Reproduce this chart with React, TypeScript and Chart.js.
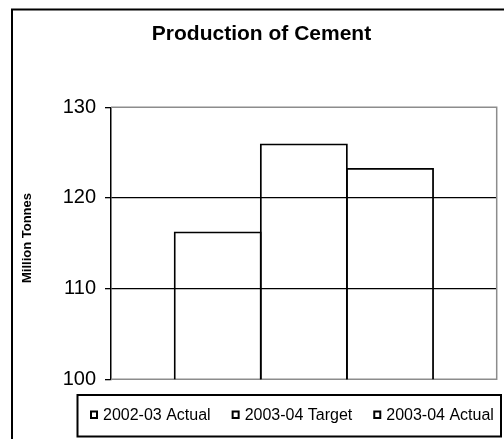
import { useEffect, useRef } from "react";
import { Chart, registerables } from "chart.js";

Chart.register(...registerables);

const chartTitle = "Production of Cement";
const yAxisTitle = "Million Tonnes";
const categories = ["Cement"];
const seriesLabels = ["2002-03 Actual", "2003-04 Target", "2003-04 Actual"];
const actual2002 = [116.3];
const target2003 = [126.0];
const actual2003 = [123.3];
const yMin = 100;
const yMax = 130;
const yStep = 10;

const FONT = "'Liberation Sans', Arial, Helvetica, sans-serif";

const decorPlugin = {
  id: "decor",
  beforeDatasetsDraw(chart: any) {
    const { ctx, chartArea: a } = chart;
    ctx.save();
    ctx.strokeStyle = "#8c8c8c";
    ctx.lineWidth = 1.5;
    ctx.beginPath();
    ctx.moveTo(a.left, a.top);
    ctx.lineTo(a.right, a.top);
    ctx.lineTo(a.right, a.bottom);
    ctx.lineTo(a.left, a.bottom);
    ctx.stroke();
    ctx.restore();
  },
  afterDraw(chart: any) {
    const { ctx } = chart;
    ctx.save();
    // outer frame
    ctx.strokeStyle = "#000";
    ctx.lineWidth = 2;
    ctx.strokeRect(12, 9.5, 700, 700);

    // title
    ctx.fillStyle = "#000";
    ctx.font = `bold 21px ${FONT}`;
    ctx.textAlign = "center";
    ctx.textBaseline = "middle";
    ctx.fillText(chartTitle, 261.5, 34);

    // y-axis title
    ctx.save();
    ctx.translate(27.5, 238);
    ctx.rotate(-Math.PI / 2);
    ctx.font = `bold 13px ${FONT}`;
    ctx.fillText(yAxisTitle, 0, 0);
    ctx.restore();

    // legend box
    ctx.lineWidth = 2;
    ctx.strokeRect(77.5, 395, 423.5, 41.5);

    // legend items
    ctx.font = `16px ${FONT}`;
    ctx.textAlign = "left";
    ctx.textBaseline = "middle";
    const cy = 415;
    let x = 90;
    chart.data.datasets.forEach((ds: any) => {
      ctx.lineWidth = 2;
      ctx.strokeStyle = "#000";
      ctx.strokeRect(x + 1, cy - 4.5 + 1, 6, 6.5);
      const tx = x + 13;
      ctx.fillText(ds.label, tx, cy + 1);
      x = tx + ctx.measureText(ds.label).width + 21;
    });
    ctx.restore();
  },
};

export default function App() {
  const ref = useRef<HTMLCanvasElement | null>(null);

  useEffect(() => {
    if (!ref.current) return;
    const seriesValues = [actual2002, target2003, actual2003];
    const chart = new Chart(ref.current, {
      type: "bar",
      data: {
        labels: categories,
        datasets: seriesLabels.map((label, i) => ({
          label,
          data: seriesValues[i],
          backgroundColor: "rgba(0,0,0,0)",
          borderColor: "#000",
          borderWidth: 1.8,
          borderSkipped: false,
          categoryPercentage: 0.67,
          barPercentage: 1.021,
        })),
      },
      options: {
        responsive: false,
        animation: false,
        layout: { padding: { top: 107.3, bottom: 59.7, left: 0, right: 7.3 } },
        plugins: {
          legend: { display: false },
          title: { display: false },
          tooltip: { enabled: false },
        },
        scales: {
          x: { display: false },
          y: {
            min: yMin,
            max: yMax,
            afterFit: (scale: any) => {
              scale.width = 111;
            },
            ticks: {
              stepSize: yStep,
              color: "#000",
              padding: 9,
              font: { family: FONT, size: 20 },
            },
            grid: {
              color: (c: any) =>
                c.tick && c.tick.value > yMin && c.tick.value < yMax ? "#000" : "rgba(0,0,0,0)",
              tickColor: "#000",
              tickLength: 6,
              lineWidth: 1.3,
              tickWidth: 1.3,
            },
            border: { display: true, color: "#000", width: 1.5 },
          },
        },
      },
      plugins: [decorPlugin],
    });
    return () => chart.destroy();
  }, []);

  return (
    <div style={{ position: "absolute", left: 0, top: 0, width: 504, height: 439, background: "#fff" }}>
      <canvas ref={ref} width={504} height={439} style={{ display: "block" }} />
    </div>
  );
}
